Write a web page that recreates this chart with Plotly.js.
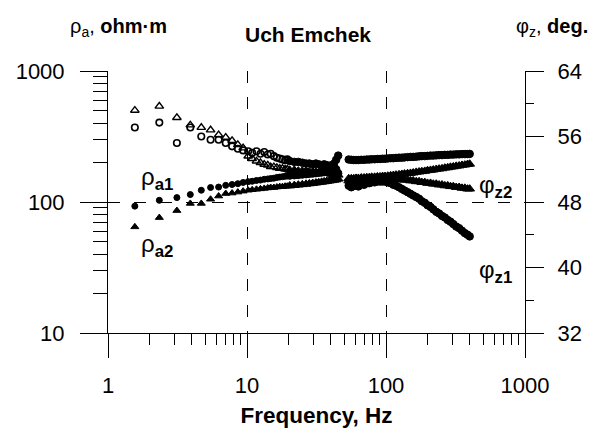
<!DOCTYPE html>
<html>
<head>
<meta charset="utf-8">
<script src="https://cdn.plot.ly/plotly-3.0.1.min.js"></script>
<style>
  html, body { margin: 0; padding: 0; background: #fff; }
  #chart { width: 595px; height: 428px; }
</style>
</head>
<body>
<div id="chart"></div>
<script>
// Sounding frequencies, Hz (gap around the 50 Hz power-line band)
const freqs = [
  1.56, 2.34, 3.13, 3.91, 4.69, 5.47, 6.25, 7.03, 7.81, 8.59, 9.38,
  10.2, 10.9, 11.7, 12.5, 13.3, 14.1, 14.8, 15.6, 16.4, 17.2, 18.0, 18.8, 19.5, 20.3,
  21.9, 23.4, 25.0, 26.6, 28.1, 29.7, 31.3, 32.8, 34.4, 35.9, 37.5, 39.1, 40.6, 42.2, 43.8, 45.3,
  53.9, 56.3, 58.6, 60.9, 63.3, 66.4, 69.5, 72.7, 75.8, 78.9, 82.8, 86.7, 90.6, 94.5, 98.4,
  103, 108, 113, 118, 124, 130, 136, 143, 150, 157, 165, 173, 181, 190, 199,
  209, 219, 230, 241, 253, 265, 278, 291, 305, 320, 336, 352, 369, 386, 400
];

// Apparent resistivity, ohm·m
const rhoA1 = [
  93, 103, 108, 114, 123, 129, 130, 134, 136, 138, 141,
  143, 144, 146, 147, 149, 150, 151, 152, 154, 155, 156, 157, 158, 159,
  160, 161, 162, 163, 164, 165, 166, 167, 168, 169, 171, 176, 185, 196, 210, 226,
  211, 210, 209, 209, 209, 210, 210, 211, 211, 212, 212, 213, 213, 214, 214,
  215, 216, 216, 217, 218, 218, 219, 220, 221, 221, 222, 223, 224, 224, 225,
  226, 226, 227, 228, 228, 229, 229, 230, 230, 231, 231, 232, 232, 232, 233
];
const rhoA2 = [
  64.6, 76, 86, 97.5, 97.5, 105, 111, 116, 117, 119, 121,
  123, 124, 125, 126, 127, 128, 129, 129, 130, 131, 131, 132, 132, 133,
  134, 135, 136, 137, 138, 139, 140, 141, 142, 143, 144, 145, 146, 147, 148, 150,
  151, 151, 151, 152, 152, 153, 153, 154, 154, 155, 155, 156, 156, 157, 157,
  158, 159, 160, 161, 162, 163, 164, 165, 166, 167, 169, 170, 171, 172, 174,
  175, 176, 178, 179, 180, 182, 183, 185, 186, 188, 189, 191, 192, 194, 195
];

// Impedance phase, degrees
const phiZ1 = [
  57.1, 57.7, 55.2, 57.1, 56.0, 55.6, 55.6, 55.2, 54.8, 54.5, 54.3,
  54.2, 54.0, 54.2, 53.9, 54.1, 53.8, 53.9, 53.6, 53.4, 53.3, 53.2, 53.1, 53.2, 53.0,
  52.9, 52.9, 52.8, 52.7, 52.7, 52.6, 52.7, 52.6, 52.5, 52.6, 52.5, 52.4, 52.5, 52.3, 52.0, 51.5,
  50.0, 49.8, 50.1, 50.0, 49.9, 50.2, 50.1, 50.3, 50.3, 50.4, 50.4, 50.5, 50.5, 50.5, 50.5,
  50.4, 50.3, 50.1, 50.0, 49.8, 49.6, 49.4, 49.2, 49.0, 48.8, 48.6, 48.4, 48.1, 47.9, 47.6,
  47.4, 47.1, 46.8, 46.6, 46.3, 46.1, 45.8, 45.6, 45.3, 45.0, 44.8, 44.5, 44.2, 44.0, 43.8
];
const phiZ2 = [
  59.2, 59.7, 58.3, 57.4, 57.1, 56.8, 56.2, 55.9, 55.5, 55.0, 54.6,
  53.6, 53.3, 53.0, 52.8, 52.6, 52.5, 52.3, 52.3, 52.2, 52.1, 52.1, 52.0, 52.0, 51.9,
  51.9, 51.8, 51.8, 51.8, 51.7, 51.7, 51.7, 51.6, 51.6, 51.6, 51.5, 51.5, 51.4, 51.4, 51.4, 51.3,
  50.6, 50.5, 50.6, 50.6, 50.7, 50.7, 50.8, 50.8, 50.8, 50.9, 50.9, 50.9, 50.9, 50.9, 50.9,
  50.9, 50.9, 50.8, 50.8, 50.8, 50.7, 50.7, 50.7, 50.6, 50.6, 50.5, 50.5, 50.4, 50.4, 50.3,
  50.3, 50.2, 50.2, 50.1, 50.1, 50.0, 50.0, 49.9, 49.9, 49.8, 49.8, 49.7, 49.7, 49.6, 49.6
];

// Axis ticks
const freqTickVals = [1, 10, 100, 1000];
const freqTickText = ['1', '10', '100', '1000'];
const rhoTickVals = [10, 100, 1000];
const rhoTickText = ['10', '100', '1000'];
const phiTickVals = [32, 40, 48, 56, 64];
const phiTickText = ['32', '40', '48', '56', '64'];
const phiMinorVals = [36, 44, 52, 60];

// log-scale minor ticks at 2..9 of every decade
function logMinor(fromExp, toExp) {
  const out = [];
  for (let e = fromExp; e < toExp; e++) {
    for (let d = 2; d <= 9; d++) out.push(d * Math.pow(10, e));
  }
  return out;
}

const FONT = 'Liberation Sans, Arial, sans-serif';
const BLACK = '#000';

// above ~20 Hz the readings sit so close together that the symbols merge into solid bands
const bySpacing = (lo, hi) => freqs.map(f => (f >= 20 ? hi : lo));

const traces = [
  { x: freqs, y: rhoA1, type: 'scatter', mode: 'markers', name: 'ρa1',
    marker: { symbol: 'circle', size: bySpacing(6, 7.5), color: BLACK, opacity: 1,
              line: { width: 1, color: BLACK } } },
  { x: freqs, y: rhoA2, type: 'scatter', mode: 'markers', name: 'ρa2',
    marker: { symbol: 'triangle-up', size: bySpacing(7, 8.5), color: BLACK, opacity: 1,
              line: { width: 1, color: BLACK } } },
  { x: freqs, y: phiZ1, type: 'scatter', mode: 'markers', name: 'φz1', yaxis: 'y2',
    marker: { symbol: bySpacing('circle-open', 'circle'), size: bySpacing(6.5, 7.5), color: BLACK, opacity: 1,
              line: { width: bySpacing(1.6, 1), color: BLACK } } },
  { x: freqs, y: phiZ2, type: 'scatter', mode: 'markers', name: 'φz2', yaxis: 'y2',
    marker: { symbol: bySpacing('triangle-up-open', 'triangle-up'), size: bySpacing(7.5, 8.5), color: BLACK, opacity: 1,
              line: { width: bySpacing(1.4, 1), color: BLACK } } }
];

const gridDash = '12px,14px';

const layout = {
  width: 595, height: 428,
  margin: { l: 108, r: 70, t: 71, b: 95, pad: 0 },
  paper_bgcolor: '#fff', plot_bgcolor: '#fff',
  font: { family: FONT, color: BLACK, size: 22 },
  showlegend: false,
  title: {
    text: '<b>Uch Emchek</b>',
    font: { family: FONT, size: 21, color: BLACK },
    xref: 'paper', x: (308 - 108) / 417, xanchor: 'center',
    yref: 'container', y: 1 - 35 / 428, yanchor: 'middle'
  },
  xaxis: {
    type: 'log', range: [0, 3],
    tickmode: 'array', tickvals: freqTickVals, ticktext: freqTickText,
    ticks: 'outside', ticklen: 24, tickwidth: 1, tickcolor: BLACK,
    ticklabelstandoff: 9,
    tickfont: { family: FONT, size: 22, color: BLACK },
    minor: { tickmode: 'array', tickvals: logMinor(0, 3), ticks: 'outside', ticklen: 11,
             tickwidth: 1, tickcolor: BLACK, showgrid: false },
    showline: true, linecolor: BLACK, linewidth: 1,
    showgrid: true, gridcolor: BLACK, gridwidth: 1, griddash: gridDash,
    zeroline: false,
    title: { text: '<b>Frequency, Hz</b>', font: { family: FONT, size: 22.5, color: BLACK }, standoff: 9 }
  },
  yaxis: {
    type: 'log', range: [1, 3],
    tickmode: 'array', tickvals: rhoTickVals, ticktext: rhoTickText,
    ticks: 'outside', ticklen: 27, tickwidth: 1, tickcolor: BLACK,
    ticklabelstandoff: 11,
    tickfont: { family: FONT, size: 22, color: BLACK },
    minor: { tickmode: 'array', tickvals: logMinor(1, 3), ticks: 'outside', ticklen: 14,
             tickwidth: 1, tickcolor: BLACK, showgrid: false },
    showline: true, linecolor: BLACK, linewidth: 1,
    showgrid: true, gridcolor: BLACK, gridwidth: 1, griddash: gridDash,
    zeroline: false
  },
  yaxis2: {
    overlaying: 'y', side: 'right', range: [32, 64],
    tickmode: 'array', tickvals: phiTickVals, ticktext: phiTickText,
    ticks: 'outside', ticklen: 18, tickwidth: 1, tickcolor: BLACK,
    ticklabelstandoff: 9,
    tickfont: { family: FONT, size: 22, color: BLACK },
    minor: { tickmode: 'array', tickvals: phiMinorVals, ticks: 'outside', ticklen: 8,
             tickwidth: 1, tickcolor: BLACK, showgrid: false },
    showline: true, linecolor: BLACK, linewidth: 1,
    showgrid: false, zeroline: false
  },
  annotations: [
    { text: 'ρ<sub>a</sub>, <b>ohm·m</b>', xref: 'paper', yref: 'paper',
      x: (68 - 108) / 417, y: (333 - 28) / 262, xanchor: 'left', yanchor: 'middle',
      showarrow: false, font: { family: FONT, size: 20, color: BLACK } },
    { text: 'φ<sub>z</sub>, <b>deg.</b>', xref: 'paper', yref: 'paper',
      x: (590 - 108) / 417, y: (333 - 28) / 262, xanchor: 'right', yanchor: 'middle',
      showarrow: false, font: { family: FONT, size: 20, color: BLACK } },
    { text: 'ρ<sub><b>a1</b></sub>', xref: 'paper', yref: 'paper',
      x: (139 - 108) / 417, y: (333 - 178) / 262, xanchor: 'left', yanchor: 'middle',
      showarrow: false, font: { family: FONT, size: 24, color: BLACK } },
    { text: 'ρ<sub><b>a2</b></sub>', xref: 'paper', yref: 'paper',
      x: (139 - 108) / 417, y: (333 - 245) / 262, xanchor: 'left', yanchor: 'middle',
      showarrow: false, font: { family: FONT, size: 24, color: BLACK } },
    { text: 'φ<sub><b>z2</b></sub>', xref: 'paper', yref: 'paper',
      x: (477 - 108) / 417, y: (333 - 186) / 262, xanchor: 'left', yanchor: 'middle',
      showarrow: false, font: { family: FONT, size: 24, color: BLACK } },
    { text: 'φ<sub><b>z1</b></sub>', xref: 'paper', yref: 'paper',
      x: (477 - 108) / 417, y: (333 - 271) / 262, xanchor: 'left', yanchor: 'middle',
      showarrow: false, font: { family: FONT, size: 24, color: BLACK } }
  ]
};

Plotly.newPlot('chart', traces, layout, { staticPlot: true, displayModeBar: false });
</script>
</body>
</html>
